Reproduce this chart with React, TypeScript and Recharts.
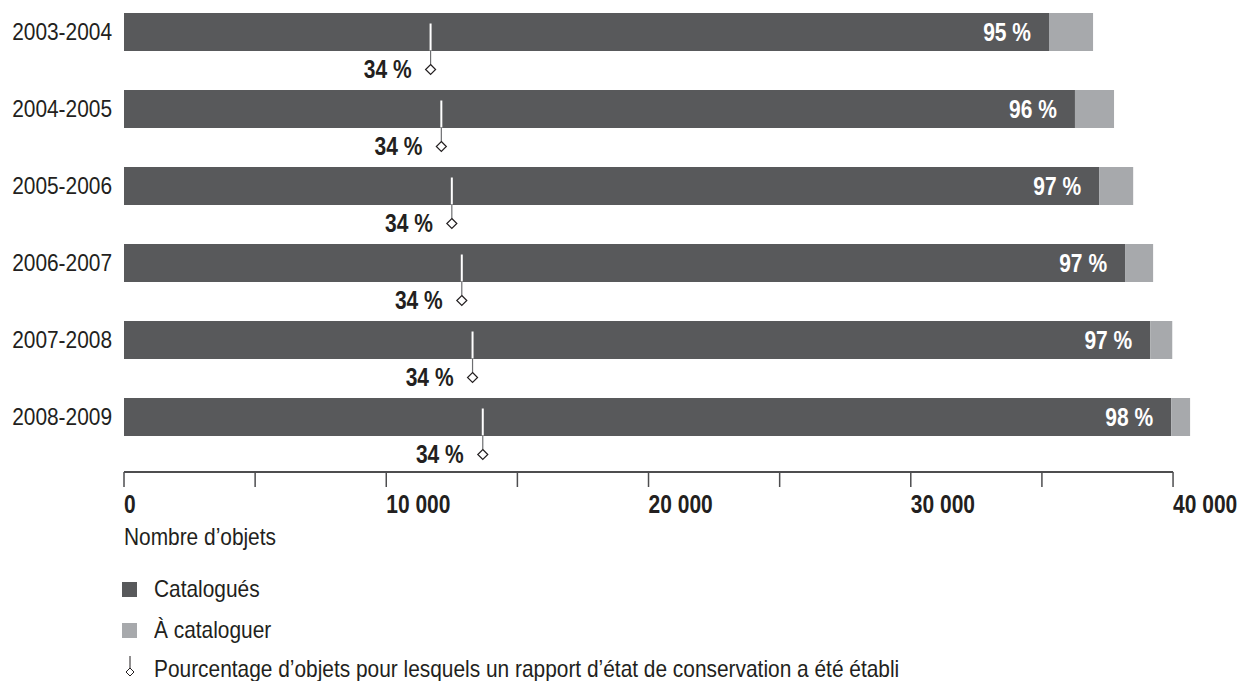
import React from "react";
import {
  BarChart,
  Bar,
  XAxis,
  YAxis,
  LabelList,
  Label,
  ReferenceDot,
  ReferenceLine,
} from "recharts";

const years = ["2003-2004", "2004-2005", "2005-2006", "2006-2007", "2007-2008", "2008-2009"];
const catalogues = [35270, 36260, 37180, 38170, 39130, 39930];
const aCataloguer = [1680, 1490, 1300, 1070, 840, 720];
const pctCatalogues = [95, 96, 97, 97, 97, 98];
const conservation = [11690, 12100, 12500, 12880, 13290, 13680];
const pctConservation = [34, 34, 34, 34, 34, 34];
const xTicks = [0, 5000, 10000, 15000, 20000, 25000, 30000, 35000, 40000];

const DARK = "#58595b";
const LIGHT = "#a7a9ac";
const INK = "#231f20";
const AXIS = "#4d4d4f";
const FONT = '"Liberation Sans", Arial, sans-serif';
// the original uses a condensed face; squeeze Liberation Sans to match
const SX_REG = 0.87;
const SX_BOLD = 0.84;

const data = years.map((y, i) => ({
  year: y,
  cat: catalogues[i],
  rest: aCataloguer[i],
  pct: pctCatalogues[i],
  cons: conservation[i],
  consPct: pctConservation[i],
}));

const fmt = (v: number) => String(v).replace(/\B(?=(\d{3})+(?!\d))/g, " ");

const Txt = (p: {
  x: number;
  y: number;
  anchor?: "start" | "end" | "middle";
  bold?: boolean;
  size?: number;
  fill?: string;
  central?: boolean;
  children: React.ReactNode;
}) => (
  <text
    transform={`translate(${p.x},${p.y}) scale(${p.bold ? SX_BOLD : SX_REG},1)`}
    textAnchor={p.anchor || "start"}
    dominantBaseline={p.central ? "central" : "auto"}
    fill={p.fill || INK}
    fontFamily={FONT}
    fontWeight={p.bold ? "bold" : "normal"}
    fontSize={p.size || 24}
  >
    {p.children}
  </text>
);

const XTick = (props: any) => {
  const { x, y, payload } = props;
  if (payload.value % 10000 !== 0) return <g />;
  return (
    <Txt x={x} y={y + 24} bold size={25}>
      {fmt(payload.value)}
    </Txt>
  );
};

const YTick = (props: any) => {
  const { x, y, payload } = props;
  return (
    <Txt x={x} y={y} anchor="end" central>
      {payload.value}
    </Txt>
  );
};

const PctLabel = (props: any) => {
  const { x, y, width, height, value } = props;
  return (
    <Txt x={x + width - 18} y={y + height / 2} anchor="end" bold size={25} fill="#fff" central>
      {value} %
    </Txt>
  );
};

const marker = (pct: number) => (props: any) => {
  const { cx, cy } = props;
  const dy = cy + 38;
  return (
    <g>
      <line x1={cx} x2={cx} y1={cy - 8} y2={cy + 19} stroke="#fff" strokeWidth={2} />
      <line x1={cx} x2={cx} y1={cy + 19} y2={dy - 5} stroke="#6d6e71" strokeWidth={1.2} />
      <polygon
        points={`${cx},${dy - 5} ${cx + 5},${dy} ${cx},${dy + 5} ${cx - 5},${dy}`}
        fill="#fff"
        stroke={INK}
        strokeWidth={1.2}
      />
      <Txt x={cx - 19} y={cy + 46} anchor="end" bold size={25}>
        {pct} %
      </Txt>
    </g>
  );
};

const legendRow = (top: number, icon: React.ReactNode, text: string) => (
  <div
    style={{
      position: "absolute",
      left: 0,
      top: top - 15,
      height: 30,
      display: "flex",
      alignItems: "center",
      fontFamily: FONT,
      fontSize: 24,
      color: INK,
      whiteSpace: "nowrap",
    }}
  >
    <div style={{ width: 154, flexShrink: 0 }}>{icon}</div>
    <span style={{ display: "inline-block", transform: `scaleX(${SX_REG})`, transformOrigin: "left center" }}>
      {text}
    </span>
  </div>
);

export default function App() {
  return (
    <div style={{ position: "absolute", left: 0, top: 0, width: 1240, height: 681, overflow: "hidden", background: "#fff" }}>
      <div style={{ position: "absolute", left: 0, top: -7 }}>
        <BarChart
          width={1240}
          height={688}
          data={data}
          layout="vertical"
          margin={{ top: 0, right: 14.5, left: 0, bottom: 129 }}
        >
          <XAxis
            type="number"
            domain={[0, 42000]}
            ticks={xTicks}
            interval={0}
            tickSize={15}
            tickLine={{ stroke: AXIS, strokeWidth: 1.5 }}
            axisLine={false}
            tick={<XTick />}
            height={80}
          >
            <Label
              content={(p: any) => (
                <Txt x={p.viewBox.x} y={p.viewBox.y + 73}>
                  Nombre d’objets
                </Txt>
              )}
            />
          </XAxis>
          <YAxis
            type="category"
            dataKey="year"
            width={124}
            axisLine={false}
            tickLine={false}
            tickSize={0}
            tickMargin={12}
            padding={{ top: 0, bottom: 17 }}
            tick={<YTick />}
          />
          <Bar dataKey="cat" stackId="a" fill={DARK} barSize={38} isAnimationActive={false}>
            <LabelList dataKey="pct" content={<PctLabel />} />
          </Bar>
          <Bar dataKey="rest" stackId="a" fill={LIGHT} barSize={38} isAnimationActive={false} />
          {/* axis baseline from 0 to 40 000, dropped from the last band centre to the plot bottom */}
          <ReferenceLine
            segment={[
              { x: 0, y: years[years.length - 1] },
              { x: 40000, y: years[years.length - 1] },
            ]}
            shape={(p: any) => (
              <line x1={p.x1} y1={p.y1 + 55.5} x2={p.x2} y2={p.y2 + 55.5} stroke={AXIS} strokeWidth={2} />
            )}
          />
          {data.map((d) => (
            <ReferenceDot key={d.year} x={d.cons} y={d.year} r={0} shape={marker(d.consPct)} />
          ))}
        </BarChart>
      </div>
      {legendRow(589, <div style={{ marginLeft: 122, width: 15, height: 15, background: DARK }} />, "Catalogués")}
      {legendRow(630, <div style={{ marginLeft: 122, width: 15, height: 15, background: LIGHT }} />, "À cataloguer")}
      {legendRow(
        669,
        <svg width={20} height={30} style={{ marginLeft: 120, display: "block" }}>
          <line x1={10} x2={10} y1={2} y2={14} stroke={INK} strokeWidth={1} />
          <polygon points="10,14 14,18 10,22 6,18" fill="#fff" stroke={INK} strokeWidth={1} />
        </svg>,
        "Pourcentage d’objets pour lesquels un rapport d’état de conservation a été établi"
      )}
    </div>
  );
}
